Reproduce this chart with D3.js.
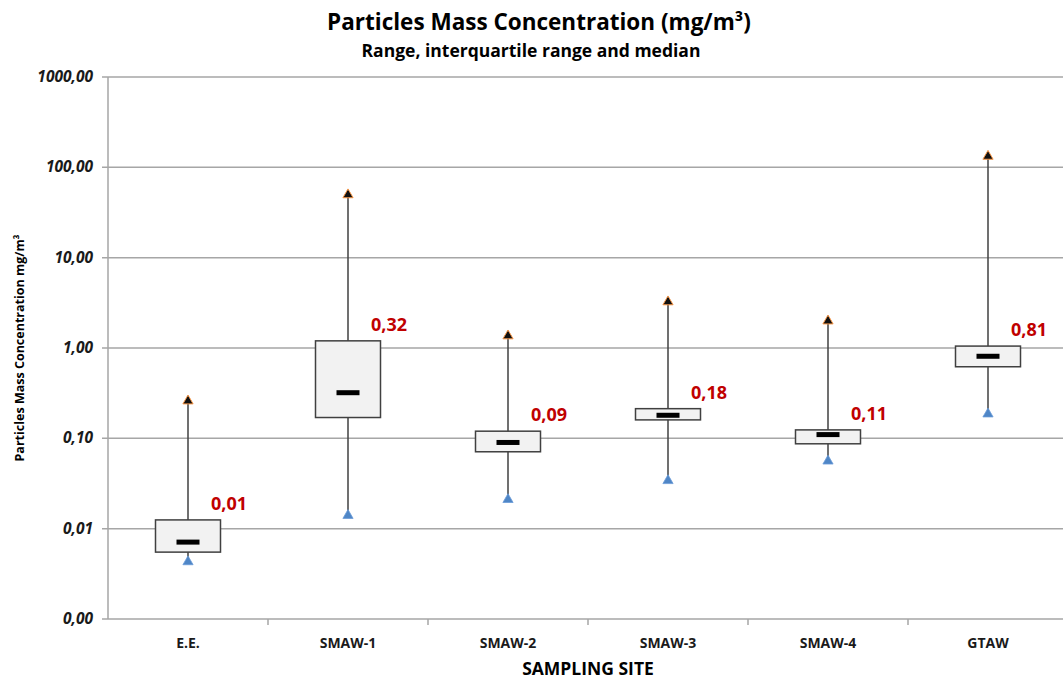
<!DOCTYPE html>
<html>
<head>
<meta charset="utf-8">
<script src="https://cdn.jsdelivr.net/npm/d3@7"></script>
<style>
  body { margin: 0; background: #fff; }
  svg { display: block; font-family: "Open Sans", "Noto Sans", sans-serif; }
  .grid line { stroke: #a6a6a6; stroke-width: 1.5; }
  .tick-label { font-weight: bold; font-style: italic; font-size: 15.5px; fill: #1a1a1a; }
  .site-label { font-weight: bold; font-size: 14px; fill: #1a1a1a; }
  .median-label { font-weight: bold; font-size: 18px; fill: #c00000; }
</style>
</head>
<body>
<svg id="chart" width="1063" height="681"></svg>
<script>
const sites = ["E.E.", "SMAW-1", "SMAW-2", "SMAW-3", "SMAW-4", "GTAW"];
const minVals = [0.0043, 0.014, 0.021, 0.034, 0.056, 0.186];
const q1Vals = [0.0055, 0.17, 0.071, 0.16, 0.087, 0.62];
const medianVals = [0.0071, 0.32, 0.09, 0.18, 0.11, 0.81];
const q3Vals = [0.0125, 1.2, 0.12, 0.213, 0.124, 1.05];
const maxVals = [0.28, 53.6, 1.47, 3.5, 2.15, 143];
const yTicks = [0.001, 0.01, 0.1, 1, 10, 100, 1000];

const locale = d3.formatLocale({decimal: ",", thousands: ".", grouping: [3], currency: ["", ""]});
const fmt = locale.format(".2f");

const data = sites.map((s, i) => ({
  site: s, min: minVals[i], q1: q1Vals[i], median: medianVals[i], q3: q3Vals[i], max: maxVals[i]
}));

const svg = d3.select("#chart");
const plotL = 108, plotR = 1068, plotT = 77, plotB = 619;

const x = d3.scaleBand().domain(sites).range([plotL, plotR]);
const y = d3.scaleLog().domain([0.001, 1000]).range([plotB, plotT]);

// titles
svg.append("text")
    .attr("x", 539).attr("y", 30)
    .attr("text-anchor", "middle")
    .style("font-size", "22.5px").style("font-weight", "bold")
    .text("Particles Mass Concentration (mg/m³)");

svg.append("text")
    .attr("x", 531).attr("y", 57)
    .attr("text-anchor", "middle")
    .style("font-size", "17.5px").style("font-weight", "bold")
    .text("Range, interquartile range and median");

// grid --------------------------------------------------------------
const gridG = svg.append("g").classed("grid", true);
gridG.selectAll("line")
  .data(yTicks)
  .enter()
  .append("line")
    .attr("x1", plotL - 6).attr("x2", plotR)
    .attr("y1", d => y(d)).attr("y2", d => y(d));

gridG.append("line")
    .attr("x1", plotL).attr("x2", plotL)
    .attr("y1", plotT).attr("y2", plotB);

// x ticks at category boundaries
gridG.selectAll(".xtick")
  .data(sites.slice(1))
  .enter()
  .append("line")
    .attr("x1", d => x(d)).attr("x2", d => x(d))
    .attr("y1", plotB).attr("y2", plotB + 6);

svg.selectAll(".tick-label")
  .data(yTicks)
  .enter()
  .append("text")
    .classed("tick-label", true)
    .attr("x", 93)
    .attr("y", d => y(d) + 5)
    .attr("text-anchor", "end")
    .text(d => fmt(d));

svg.selectAll(".site-label")
  .data(sites)
  .enter()
  .append("text")
    .classed("site-label", true)
    .attr("x", d => x(d) + x.bandwidth() / 2)
    .attr("y", 648)
    .attr("text-anchor", "middle")
    .text(d => d);

svg.append("text")
    .attr("x", (plotL + plotR) / 2).attr("y", 675)
    .attr("text-anchor", "middle")
    .style("font-size", "17.5px").style("font-weight", "bold")
    .text("SAMPLING SITE");

svg.append("text")
    .attr("transform", `translate(24, ${(plotT + plotB) / 2}) rotate(-90)`)
    .attr("text-anchor", "middle")
    .style("font-size", "12.5px").style("font-weight", "bold")
    .text("Particles Mass Concentration mg/m³");

// boxes -------------------------------------------------------------
const boxW = 65, medW = 23;
const boxG = svg.append("g").selectAll("g")
  .data(data)
  .enter()
  .append("g")
    .attr("transform", d => `translate(${x(d.site) + x.bandwidth() / 2}, 0)`);

boxG.append("line")
    .attr("x1", 0).attr("x2", 0)
    .attr("y1", d => y(d.max)).attr("y2", d => y(d.min))
    .attr("stroke", "#404040").attr("stroke-width", 1.5);

boxG.append("rect")
    .attr("x", -boxW / 2)
    .attr("width", boxW)
    .attr("y", d => y(d.q3))
    .attr("height", d => y(d.q1) - y(d.q3))
    .attr("fill", "#f2f2f2")
    .attr("stroke", "#404040").attr("stroke-width", 1.5);

boxG.append("rect")
    .attr("x", -medW / 2)
    .attr("width", medW)
    .attr("y", d => y(d.median) - 2.5)
    .attr("height", 5)
    .attr("fill", "#000");

const tri = d3.symbol().type(d3.symbolTriangle).size(45);

boxG.append("path")
    .attr("d", tri)
    .attr("transform", d => `translate(0, ${y(d.max) + 3})`)
    .attr("fill", "#111")
    .attr("stroke", "#f79646").attr("stroke-width", 1);

boxG.append("path")
    .attr("d", tri)
    .attr("transform", d => `translate(0, ${y(d.min)})`)
    .attr("fill", "#4f86c6")
    .attr("stroke", "#6a9bd8").attr("stroke-width", 0.8);

boxG.append("text")
    .classed("median-label", true)
    .attr("x", 23)
    .attr("y", d => y(d.q3) - 10)
    .text(d => fmt(d.median));
</script>
</body>
</html>
